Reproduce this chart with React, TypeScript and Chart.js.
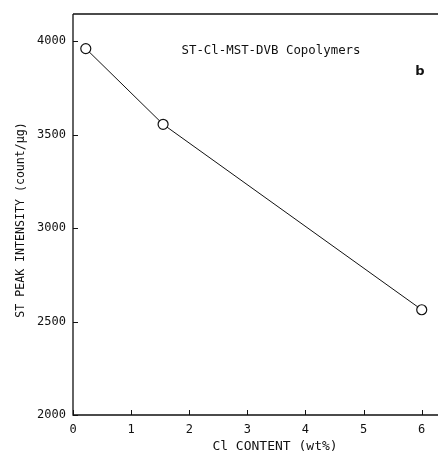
import React, { useEffect, useRef } from "react";
import { Chart, registerables } from "chart.js";

Chart.register(...registerables);

const clContent = [0.22, 1.55, 6.0];
const stIntensity = [3960, 3555, 2563];
const xTicks = [0, 1, 2, 3, 4, 5, 6];
const yTicks = [2000, 2500, 3000, 3500, 4000];
const annotationText = "ST-Cl-MST-DVB Copolymers";
const panelLabel = "b";
const xTitle = "Cl CONTENT (wt%)";
const yTitle = "ST PEAK INTENSITY (count/\u03bcg)";

const FONT = "'DejaVu Sans Mono', 'Liberation Mono', monospace";

const framePlugin = {
  id: "frame",
  afterDraw(chart: any) {
    const { ctx, chartArea } = chart;
    const xs = chart.scales.x;
    const ys = chart.scales.y;
    ctx.save();
    ctx.strokeStyle = "#111";
    ctx.lineWidth = 1.3;
    ctx.beginPath();
    ctx.moveTo(chartArea.left, chartArea.top);
    ctx.lineTo(chartArea.left, chartArea.bottom);
    ctx.lineTo(chartArea.right, chartArea.bottom);
    ctx.moveTo(chartArea.left, chartArea.top);
    ctx.lineTo(chartArea.right, chartArea.top);
    ctx.stroke();
    ctx.lineWidth = 1;
    ctx.beginPath();
    for (const v of xTicks) {
      const px = Math.round(xs.getPixelForValue(v)) + 0.5;
      ctx.moveTo(px, chartArea.bottom);
      ctx.lineTo(px, chartArea.bottom - 5);
    }
    for (const v of yTicks) {
      const py = Math.round(ys.getPixelForValue(v)) + 0.5;
      ctx.moveTo(chartArea.left, py);
      ctx.lineTo(chartArea.left + 5, py);
    }
    ctx.stroke();
    ctx.fillStyle = "#111";
    ctx.textAlign = "center";
    ctx.textBaseline = "middle";
    ctx.font = `12.4px ${FONT}`;
    ctx.fillText(annotationText, chartArea.left + 198, chartArea.top + 37);
    ctx.font = `13px ${FONT}`;
    ctx.fillText(xTitle, chartArea.left + 202, chartArea.bottom + 32);
    ctx.save();
    ctx.translate(21, chartArea.top + 206);
    ctx.rotate(-Math.PI / 2);
    ctx.font = `11.6px ${FONT}`;
    ctx.fillText(yTitle, 0, 0);
    ctx.restore();
    ctx.font = `bold 13px 'DejaVu Sans', sans-serif`;
    ctx.fillText(panelLabel, chartArea.left + 347, chartArea.top + 58);
    ctx.restore();
  },
};

export default function App() {
  const ref = useRef<HTMLCanvasElement | null>(null);
  useEffect(() => {
    if (!ref.current) return;
    const chart = new Chart(ref.current, {
      type: "line",
      data: {
        datasets: [
          {
            data: clContent.map((x, i) => ({ x, y: stIntensity[i] })),
            borderColor: "#111",
            borderWidth: 1,
            pointRadius: 5,
            pointBackgroundColor: "#fff",
            pointBorderColor: "#111",
            pointBorderWidth: 1.2,
            tension: 0,
          },
        ],
      },
      options: {
        animation: false,
        responsive: false,
        layout: { autoPadding: false, padding: { top: 14, right: 0, left: 0, bottom: 0 } },
        plugins: { legend: { display: false }, tooltip: { enabled: false } },
        scales: {
          x: {
            type: "linear",
            min: 0,
            max: 6.28,
            afterBuildTicks: (s: any) => {
              s.ticks = xTicks.map((v) => ({ value: v }));
            },
            afterFit: (s: any) => {
              s.height = 40;
              s.paddingRight = 0;
              s.paddingLeft = 0;
            },
            grid: { display: false, drawTicks: false },
            border: { display: false },
            ticks: {
              color: "#111",
              padding: 8,
              font: { family: FONT, size: 12 },
              callback: (v: any) => String(v),
            },
          },
          y: {
            type: "linear",
            min: 2000,
            max: 4145,
            afterBuildTicks: (s: any) => {
              s.ticks = yTicks.map((v) => ({ value: v }));
            },
            afterFit: (s: any) => {
              s.width = 73;
              s.paddingTop = 0;
              s.paddingBottom = 0;
            },
            grid: { display: false, drawTicks: false },
            border: { display: false },
            ticks: {
              color: "#111",
              padding: 7,
              font: { family: FONT, size: 12 },
              callback: (v: any) => String(v),
            },
          },
        },
      },
      plugins: [framePlugin],
    } as any);
    return () => chart.destroy();
  }, []);
  return (
    <div style={{ position: "fixed", left: 0, top: 0, width: 438, height: 455, background: "#fff" }}>
      <canvas ref={ref} width={438} height={455} style={{ display: "block", width: 438, height: 455 }} />
    </div>
  );
}
